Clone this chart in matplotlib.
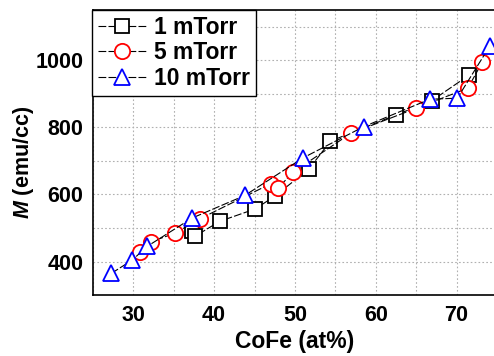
import matplotlib
matplotlib.use("Agg")
import matplotlib.pyplot as plt
from matplotlib.ticker import MultipleLocator

plt.rcParams['font.family'] = ['Liberation Sans', 'DejaVu Sans']
plt.rcParams['font.weight'] = 'bold'
plt.rcParams['mathtext.fontset'] = 'custom'
plt.rcParams['mathtext.bfit'] = 'Liberation Sans:italic:bold'

# ---------------- DATA ----------------
cofe_1 = [37.3, 37.6, 40.7, 45.1, 47.5, 51.7, 54.4, 62.5, 66.9, 71.5]
m_1 = [490, 475, 520, 557, 595, 675, 759, 837, 879, 955]

cofe_5 = [30.8, 32.2, 35.2, 38.2, 47.0, 47.9, 49.8, 56.9, 65.0, 71.4, 73.2]
m_5 = [429, 459, 485, 527, 632, 619, 667, 782, 857, 917, 995]

cofe_10 = [27.3, 29.9, 31.7, 37.3, 43.8, 51.0, 58.5, 66.7, 70.1, 74.1]
m_10 = [365, 405, 445, 530, 597, 709, 802, 884, 887, 1042]

labels = ["1 mTorr", "5 mTorr", "10 mTorr"]

# ---------------- DRAWING ----------------
fig = plt.figure(figsize=(4.94, 3.56), dpi=100)
ax = fig.add_axes([0.188, 0.171, 0.818, 0.801])

line_kw = dict(color="black", lw=0.8, ls=(0, (7, 2)), mew=1.3)
ax.plot(cofe_1, m_1, marker="s", ms=10, mfc="white", mec="black", label=labels[0], **line_kw)
ax.plot(cofe_5, m_5, marker="o", ms=11, mfc="white", mec="red", label=labels[1], **line_kw)
ax.plot(cofe_10, m_10, marker="^", ms=12, mfc="white", mec="blue", label=labels[2], **line_kw)

ax.set_xlim(25, 75)
ax.set_ylim(300, 1150)
ax.xaxis.set_major_locator(MultipleLocator(10))
ax.xaxis.set_minor_locator(MultipleLocator(5))
ax.yaxis.set_major_locator(MultipleLocator(200))
ax.yaxis.set_minor_locator(MultipleLocator(100))
ax.grid(True, which="both", color="#b0b0b0", ls=(0, (1.5, 2)), lw=0.8)
ax.tick_params(which="both", length=0, labelsize=15.5, pad=7)
for s in ax.spines.values():
    s.set_linewidth(1.2)

ax.set_xlabel("CoFe (at%)", fontsize=16.5, fontweight="bold", labelpad=3)
ax.set_ylabel(r"$\mathbfit{M}$ (emu/cc)", fontsize=15.5, fontweight="bold")
ax.yaxis.set_label_coords(-0.14, 0.465)

leg = ax.legend(loc="upper left", bbox_to_anchor=(-0.002, 1.0), borderaxespad=0,
                fontsize=16.5, handlelength=2.1, handletextpad=0.35,
                labelspacing=0.12, borderpad=0.25, fancybox=False, framealpha=1)
leg.get_frame().set_edgecolor("black")
leg.get_frame().set_linewidth(1.0)
for t in leg.get_texts():
    t.set_fontweight("bold")

plt.savefig("out.png", dpi=100)
